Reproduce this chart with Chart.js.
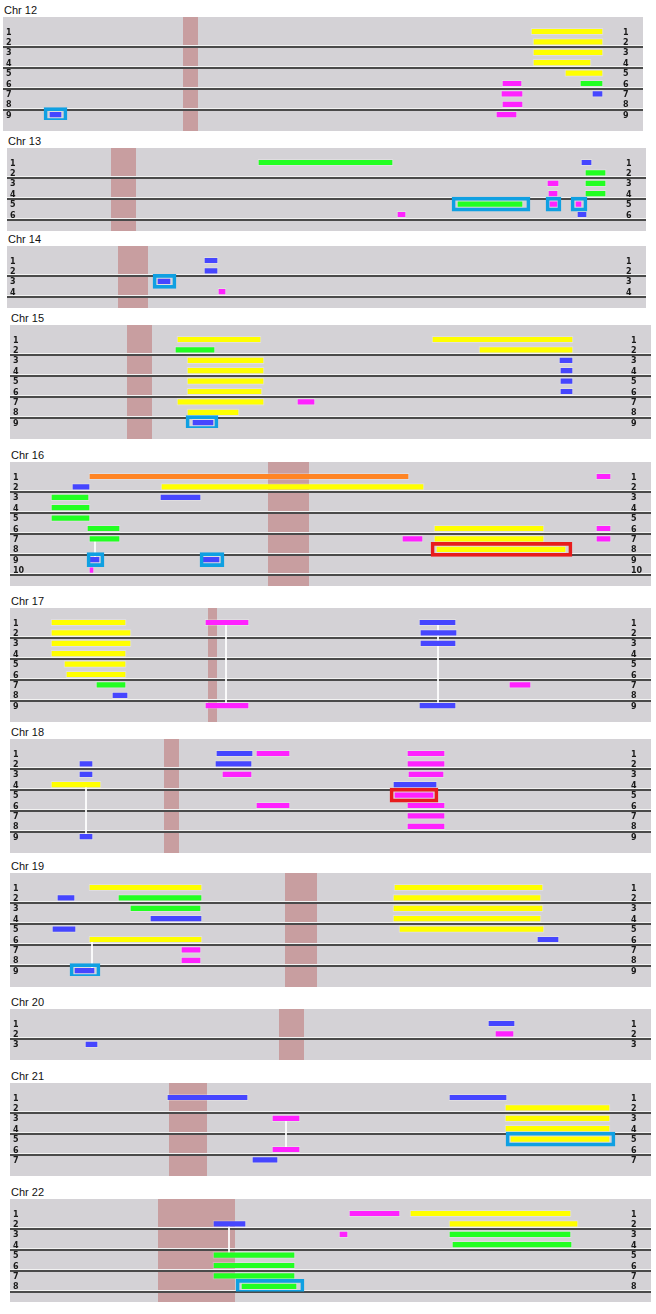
<!DOCTYPE html>
<html>
<head>
<meta charset="utf-8">
<script src="https://cdn.jsdelivr.net/npm/chart.js@4/dist/chart.umd.min.js"></script>
<style>
body { margin: 0; background: #fff; width: 656px; height: 1314px; position: relative; font-family: "Liberation Sans", Arial, sans-serif; }
.title { position: absolute; font-size: 11px; line-height: 11px; color: #111; }
canvas { position: absolute; background: #d4d2d6; }
</style>
</head>
<body>
<script>
// ---- data ----
const chromosomes = ['Chr 12', 'Chr 13', 'Chr 14', 'Chr 15', 'Chr 16', 'Chr 17', 'Chr 18', 'Chr 19', 'Chr 20', 'Chr 21', 'Chr 22'];
const rowCounts = [9, 6, 4, 9, 10, 9, 9, 9, 3, 7, 8];
const centromeres = [[183, 198], [111, 136], [118, 148], [127, 152], [268, 309], [208, 217], [164, 179], [285, 317], [279, 304], [169, 207], [158, 235]];

// segments: [row, start, end, type]
const chr12 = [[1, 531, 603, 'Y'], [2, 533, 603, 'Y'], [3, 533, 603, 'Y'], [4, 533, 591, 'Y'], [5, 565, 603, 'Y'],
  [6, 502, 522, 'M'], [6, 580, 603, 'G'], [7, 501, 523, 'M'], [7, 592, 603, 'B'], [8, 502, 523, 'M'], [9, 496, 517, 'M'], [9, 49, 62, 'B']];
const chr13 = [[1, 258, 393, 'G'], [1, 581, 592, 'B'], [2, 585, 606, 'G'], [3, 547, 559, 'M'], [3, 585, 606, 'G'],
  [4, 548, 558, 'M'], [4, 585, 606, 'G'], [5, 457, 523, 'G'], [5, 549, 558, 'M'], [5, 575, 582, 'M'], [6, 397, 406, 'M'], [6, 577, 587, 'B']];
const chr14 = [[1, 204, 218, 'B'], [2, 204, 218, 'B'], [3, 157, 171, 'B'], [4, 218, 226, 'M']];
const chr15 = [[1, 177, 261, 'Y'], [1, 432, 573, 'Y'], [2, 175, 215, 'G'], [2, 479, 573, 'Y'], [3, 187, 264, 'Y'], [3, 559, 573, 'B'],
  [4, 187, 264, 'Y'], [4, 560, 573, 'B'], [5, 187, 264, 'Y'], [5, 560, 573, 'B'], [6, 187, 262, 'Y'], [6, 560, 573, 'B'],
  [7, 177, 264, 'Y'], [7, 297, 315, 'M'], [8, 187, 239, 'Y'], [9, 192, 214, 'B']];
const chr16 = [[1, 89, 409, 'O'], [1, 596, 611, 'M'], [2, 72, 90, 'B'], [2, 161, 424, 'Y'], [3, 51, 89, 'G'], [3, 160, 201, 'B'],
  [4, 51, 90, 'G'], [5, 51, 90, 'G'], [6, 87, 120, 'G'], [6, 434, 544, 'Y'], [6, 596, 611, 'M'], [7, 89, 120, 'G'], [7, 402, 423, 'M'],
  [7, 434, 544, 'Y'], [7, 596, 611, 'M'], [8, 436, 566, 'Y'], [9, 89, 100, 'B'], [9, 202, 220, 'B'], [10, 89, 94, 'M']];
const chr17 = [[1, 51, 126, 'Y'], [1, 205, 249, 'M'], [1, 419, 456, 'B'], [2, 51, 131, 'Y'], [2, 420, 457, 'B'], [3, 51, 131, 'Y'],
  [3, 420, 456, 'B'], [4, 51, 126, 'Y'], [5, 64, 126, 'Y'], [6, 66, 126, 'Y'], [7, 96, 126, 'G'], [7, 509, 531, 'M'],
  [8, 112, 128, 'B'], [9, 205, 249, 'M'], [9, 419, 456, 'B']];
const chr18 = [[1, 216, 253, 'B'], [1, 256, 290, 'M'], [1, 407, 445, 'M'], [2, 79, 93, 'B'], [2, 215, 252, 'B'], [2, 407, 445, 'M'],
  [3, 79, 93, 'B'], [3, 222, 252, 'M'], [3, 408, 444, 'M'], [4, 51, 101, 'Y'], [4, 393, 437, 'B'], [5, 394, 434, 'M'],
  [6, 256, 290, 'M'], [6, 407, 445, 'M'], [7, 407, 445, 'M'], [8, 407, 445, 'M'], [9, 79, 93, 'B']];
const chr19 = [[1, 89, 202, 'Y'], [1, 394, 543, 'Y'], [2, 57, 75, 'B'], [2, 118, 202, 'G'], [2, 393, 541, 'Y'], [3, 130, 201, 'G'],
  [3, 393, 543, 'Y'], [4, 150, 202, 'B'], [4, 393, 541, 'Y'], [5, 52, 76, 'B'], [5, 399, 544, 'Y'], [6, 89, 202, 'Y'],
  [6, 537, 559, 'B'], [7, 181, 201, 'M'], [8, 181, 201, 'M'], [9, 74, 95, 'B']];
const chr20 = [[1, 488, 515, 'B'], [2, 495, 514, 'M'], [3, 85, 98, 'B']];
const chr21 = [[1, 167, 248, 'B'], [1, 449, 507, 'B'], [2, 505, 610, 'Y'], [3, 272, 300, 'M'], [3, 505, 610, 'Y'],
  [4, 505, 610, 'Y'], [5, 510, 610, 'Y'], [6, 272, 300, 'M'], [7, 252, 278, 'B']];
const chr22 = [[1, 349, 400, 'M'], [1, 410, 571, 'Y'], [2, 213, 246, 'B'], [2, 449, 578, 'Y'], [3, 339, 348, 'M'], [3, 449, 571, 'G'],
  [4, 452, 572, 'G'], [5, 213, 295, 'G'], [6, 213, 295, 'G'], [7, 213, 295, 'G'], [8, 241, 297, 'G']];
const segments = [chr12, chr13, chr14, chr15, chr16, chr17, chr18, chr19, chr20, chr21, chr22];

// highlighted segments: [chromosome, row, start, end, kind]
const boxes = [['Chr 12', 9, 44, 67, 'B'], ['Chr 13', 5, 452, 530, 'B'], ['Chr 13', 5, 546, 561, 'B'], ['Chr 13', 5, 571, 587, 'B'],
  ['Chr 14', 3, 153, 176, 'B'], ['Chr 15', 9, 186, 218, 'B'], ['Chr 16', 8, 431, 572, 'R'], ['Chr 16', 9, 87, 104, 'B'],
  ['Chr 16', 9, 200, 224, 'B'], ['Chr 18', 5, 390, 438, 'R'], ['Chr 19', 9, 70, 100, 'B'], ['Chr 21', 5, 506, 615, 'B'],
  ['Chr 22', 8, 236, 304, 'B']];

// links between rows: [chromosome, fromRow, toRow, position]
const links = [['Chr 16', 7, 9, 95], ['Chr 17', 1, 9, 226], ['Chr 17', 1, 9, 438], ['Chr 18', 4, 9, 86],
  ['Chr 19', 6, 9, 92], ['Chr 21', 3, 6, 286], ['Chr 22', 2, 5, 229]];

// ---- layout / style ----
const panelTops = [17, 148, 246, 325, 462, 608, 739, 873, 1009, 1083, 1199];
const panelLefts = [3, 7, 7, 10, 10, 10, 10, 10, 10, 10, 10];
const panelRights = [643, 646, 646, 651, 651, 651, 651, 651, 651, 651, 651];
const ROW_H = 10.4, PAD_TOP = 9.3, PAD_BOTTOM = 10.8, AXIS_L = 14, AXIS_R = 20, PAD_L = 3;
const segColors = { Y: '#ffff00', G: '#22ff22', B: '#4646ff', M: '#ff22ff', O: '#ff8424' };
const boxColors = { B: '#0fa0e2', R: '#e81c1c' };

const panelDecor = {
  id: 'panelDecor',
  beforeDatasetsDraw(chart, args, opts) {
    const ctx = chart.ctx, x = chart.scales.x, y = chart.scales.y;
    ctx.save();
    ctx.fillStyle = 'rgba(196,140,142,0.75)';
    const a = x.getPixelForValue(opts.cen[0]), b = x.getPixelForValue(opts.cen[1]);
    ctx.fillRect(a, 0, b - a, chart.height);
    for (let k = 2; k <= opts.rows; k += 2) {
      const py = Math.round(y.getPixelForValue(k - 0.5));
      ctx.fillStyle = '#f2f2f2';
      ctx.fillRect(0, py - 2, chart.width, 1);
      ctx.fillStyle = '#4a4a4a';
      ctx.fillRect(0, py - 1, chart.width, 2);
    }
    ctx.restore();
  }
};

const tickFont = { family: 'DejaVu Sans', weight: 'bold', size: 8 };

chromosomes.forEach((name, i) => {
  const n = rowCounts[i];
  const rows = Array.from({ length: n }, (_, k) => String(k + 1));
  const W = panelRights[i] - panelLefts[i];
  const H = Math.round(PAD_TOP + PAD_BOTTOM + n * ROW_H);

  const title = document.createElement('div');
  title.className = 'title';
  title.textContent = name;
  title.style.left = (panelLefts[i] + 1) + 'px';
  title.style.top = (panelTops[i] - 12) + 'px';
  document.body.appendChild(title);

  const canvas = document.createElement('canvas');
  canvas.width = W; canvas.height = H;
  canvas.style.width = W + 'px'; canvas.style.height = H + 'px';
  canvas.style.left = panelLefts[i] + 'px';
  canvas.style.top = panelTops[i] + 'px';
  document.body.appendChild(canvas);

  const segs = segments[i];
  const datasets = [{
    data: segs.map(s => ({ y: String(s[0]), x: [s[1], s[2]] })),
    backgroundColor: segs.map(s => segColors[s[3]]),
    borderColor: 'rgba(255,255,255,0.25)',
    borderWidth: 1,
    borderSkipped: false,
    barThickness: 6.5,
    grouped: false,
    order: 1
  }];
  const bx = boxes.filter(b => b[0] === name);
  if (bx.length) {
    datasets.push({
      data: bx.map(b => ({ y: String(b[1]), x: [b[2], b[3]] })),
      backgroundColor: 'rgba(0,0,0,0)',
      borderColor: bx.map(b => boxColors[b[4]]),
      borderWidth: 3,
      borderSkipped: false,
      barThickness: 14,
      grouped: false,
      order: 0
    });
  }
  links.filter(l => l[0] === name).forEach(l => {
    datasets.push({
      type: 'line',
      indexAxis: 'y',
      data: [{ x: l[3], y: String(l[1]) }, { x: l[3], y: String(l[2]) }],
      borderColor: '#ffffff',
      borderWidth: 1,
      pointRadius: 0,
      order: 2
    });
  });

  new Chart(canvas, {
    type: 'bar',
    data: { labels: rows, datasets: datasets },
    options: {
      indexAxis: 'y',
      responsive: false,
      animation: false,
      layout: { padding: { left: PAD_L, right: 0, top: PAD_TOP, bottom: H - PAD_TOP - n * ROW_H } },
      plugins: {
        legend: { display: false },
        tooltip: { enabled: false },
        panelDecor: { cen: centromeres[i], rows: n }
      },
      scales: {
        x: { type: 'linear', display: false, min: panelLefts[i] + PAD_L + AXIS_L, max: panelRights[i] - AXIS_R },
        y: {
          type: 'category', position: 'left', labels: rows, offset: true,
          grid: { display: false, drawTicks: false }, border: { display: false },
          ticks: { crossAlign: 'far', padding: 0, labelOffset: 1, autoSkip: false, font: tickFont, color: '#1a1a1a' },
          afterFit(s) { s.width = AXIS_L; }
        },
        y2: {
          type: 'category', position: 'right', labels: rows, offset: true,
          grid: { display: false, drawTicks: false }, border: { display: false },
          ticks: { padding: 0, labelOffset: 1, autoSkip: false, font: tickFont, color: '#1a1a1a' },
          afterFit(s) { s.width = AXIS_R; }
        }
      }
    },
    plugins: [panelDecor]
  });
});
</script>
</body>
</html>
